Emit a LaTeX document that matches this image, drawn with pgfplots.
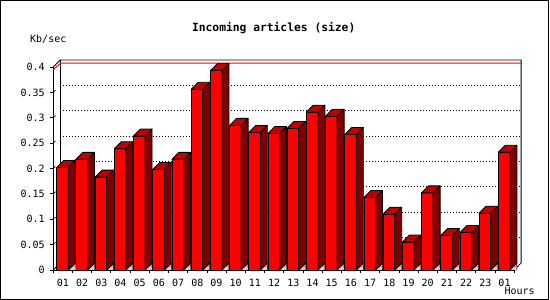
\documentclass[border=0pt]{standalone}
\usepackage{pgfplots}
\pgfplotsset{compat=1.18}
\usepackage{pgfplotstable}
\usepackage{fontspec}
\newfontfamily\mono{DejaVu Sans Mono}
\newcommand\tickfont{\mono\fontsize{10}{10}\selectfont}
\newcommand\titlefont{\mono\bfseries\fontsize{11.3}{11.3}\selectfont}
\definecolor{frontred}{RGB}{255,0,0}
\definecolor{topred}{RGB}{192,0,0}
\definecolor{sidered}{RGB}{128,0,0}
\definecolor{shade}{RGB}{128,128,128}
\pgfdeclareplotmark{emptymark}{}
\pgfplotstableread{
x v
1 0.202
2 0.218
3 0.183
4 0.239
5 0.264
6 0.198
7 0.218
8 0.356
9 0.393
10 0.285
11 0.271
12 0.269
13 0.279
14 0.311
15 0.303
16 0.267
17 0.143
18 0.110
19 0.055
20 0.152
21 0.068
22 0.074
23 0.112
24 0.232
}\data
\begin{document}
\begin{tikzpicture}
\path[use as bounding box] (0,0) rectangle (550pt,300pt);
\fill[white] (0,0) rectangle (550pt,300pt);
\draw[line width=0.9pt] (0.7pt,0.7pt) rectangle (548.5pt,299.3pt);
\node[font=\titlefont, anchor=base, inner sep=0pt] at (273.7pt,268.3pt) {Incoming articles (size)};
\node[font=\tickfont, anchor=base west, inner sep=0pt] at (30pt,257.7pt) {Kb/sec};
\node[font=\tickfont, anchor=base west, inner sep=0pt] at (504.3pt,5pt) {Hours};
\begin{axis}[
  at={(53.3pt,30pt)}, anchor=south west,
  x=19.2pt, y=507.5pt,
  xmin=0.5, xmax=24.5, ymin=0, ymax=0.4,
  clip=false,
  axis x line*=bottom, axis y line*=left,
  x axis line style={-}, y axis line style={-},
  axis line style={line width=0.8pt, black},
  xtick={0.5,1.5,...,24.5},
  x tick label as interval,
  xticklabels={01,02,03,04,05,06,07,08,09,10,11,12,13,14,15,16,17,18,19,20,21,22,23,01,{}},
  ytick={0,0.05,0.1,0.15,0.2,0.25,0.3,0.35,0.4},
  yticklabels={0,0.05,0.1,0.15,0.2,0.25,0.3,0.35,0.4},
  tick align=outside,
  major tick length=3.5pt,
  tick style={black, line width=0.8pt},
  xticklabel style={anchor=base, yshift=-13.3pt, inner sep=0pt, font=\tickfont},
  yticklabel style={anchor=east, xshift=-5pt, inner sep=0pt, font=\tickfont},
]
% back wall grid lines
\pgfplotsinvokeforeach{0.05,0.1,0.15,0.2,0.25,0.3,0.35}{
  \draw[line width=0.9pt, dash pattern=on 1.2pt off 1.8pt] ([shift={(7pt,7pt)}]axis cs:0.5,#1) -- ([shift={(7pt,7pt)}]axis cs:24.5,#1);
  \draw[line width=0.7pt] (axis cs:0.5,#1) -- ([shift={(2.2pt,2.2pt)}]axis cs:0.5,#1);
}
% back wall frame
\draw[line width=0.8pt] (axis cs:0.5,0.4) -- ([shift={(7pt,7pt)}]axis cs:0.5,0.4) -- ([shift={(7pt,7pt)}]axis cs:24.5,0.4) -- ([shift={(7pt,7pt)}]axis cs:24.5,0) -- (axis cs:24.5,0);
\draw[line width=0.8pt] ([shift={(7pt,7pt)}]axis cs:0.5,0.4) -- ([shift={(7pt,7pt)}]axis cs:0.5,0);
\draw[line width=0.8pt] (axis cs:0.5,0) -- ([shift={(7pt,7pt)}]axis cs:0.5,0);
% red line
\draw[red, line width=1pt] ([shift={(0pt,-2.5pt)}]axis cs:0.5,0.4) -- ([shift={(7.5pt,3.8pt)}]axis cs:0.5,0.4) -- ([shift={(7pt,3.8pt)}]axis cs:24.5,0.4);
% front faces
\addplot[ybar, bar width=11.6pt, bar shift=-0.4pt, fill=frontred, draw=black, line width=0.8pt] table[x=x, y=v] {\data};
% side and top faces
\addplot[only marks, mark=emptymark, scatter,
  point meta=y, point meta min=0, point meta max=1,
  scatter/@pre marker code/.code={
    \pgfmathsetmacro\hA{-\pgfplotspointmetatransformed*0.5075}
    \pgfmathsetmacro\hB{7-\pgfplotspointmetatransformed*0.5075}
    \fill[shade] (5.4pt,\hA pt) -- (12.4pt,\hB pt) -- (12.4pt,\hA pt) -- cycle;
    \filldraw[fill=sidered, draw=black, line width=0.8pt, line join=round] (5.4pt,0pt) -- (12.4pt,7pt) -- (12.4pt,\hB pt) -- (5.4pt,\hA pt) -- cycle;
    \filldraw[fill=topred, draw=black, line width=0.8pt, line join=round] (-6.2pt,0pt) -- (5.4pt,0pt) -- (12.4pt,7pt) -- (0.8pt,7pt) -- cycle;
  },
  scatter/@post marker code/.code={}
] table[x=x, y=v] {\data};
\end{axis}
\end{tikzpicture}
\end{document}
